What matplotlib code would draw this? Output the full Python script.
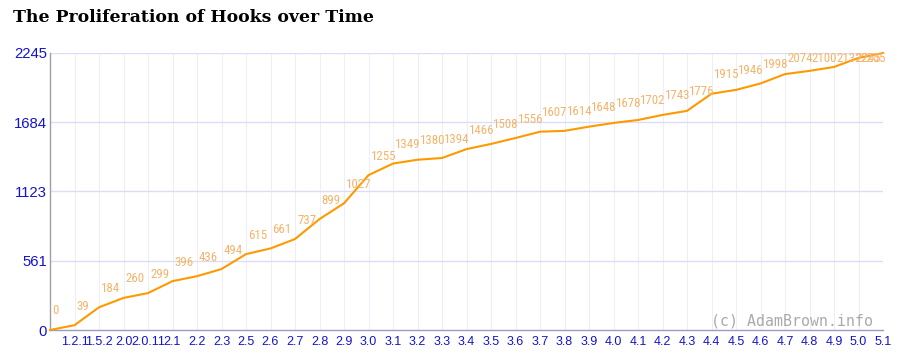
import matplotlib
matplotlib.use("Agg")
import matplotlib.pyplot as plt
from matplotlib import font_manager as fm

versions = ["", "1.2.1", "1.5.2", "2.0", "2.0.11", "2.1", "2.2", "2.3", "2.5", "2.6",
            "2.7", "2.8", "2.9", "3.0", "3.1", "3.2", "3.3", "3.4", "3.5", "3.6",
            "3.7", "3.8", "3.9", "4.0", "4.1", "4.2", "4.3", "4.4", "4.5", "4.6",
            "4.7", "4.8", "4.9", "5.0", "5.1"]
hooks = [0, 39, 184, 260, 299, 396, 436, 494, 615, 661,
         737, 899, 1027, 1255, 1349, 1380, 1394, 1466, 1508, 1556,
         1607, 1614, 1648, 1678, 1702, 1743, 1776, 1915, 1946, 1998,
         2074, 2100, 2132, 2205, 2245]
y_ticks = [0, 561, 1123, 1684, 2245]
title = "The Proliferation of Hooks over Time"
credit = "(c) AdamBrown.info"

# pick a narrow sans for the point labels if one is installed
names = {f.name for f in fm.fontManager.ttflist}
stretches = {(f.name, f.stretch) for f in fm.fontManager.ttflist}
if "Roboto Condensed" in names:
    lab_font = dict(family="Roboto Condensed", fontsize=9.3)
elif any(n == "DejaVu Sans" and s in ("condensed", 400 - 100) for n, s in stretches):
    lab_font = dict(family="DejaVu Sans", fontstretch="condensed", fontsize=9)
else:
    lab_font = dict(family="Liberation Sans", fontsize=8.6)

W, H = 900, 357
fig = plt.figure(figsize=(W / 100, H / 100), dpi=100)
ax = fig.add_axes([50 / W, 1 - 330 / H, 833 / W, 277 / H])

xs = list(range(len(hooks)))
ax.plot(xs, hooks, color="#ff9900", lw=1.5, solid_joinstyle="round", zorder=3, clip_on=False)

ax.set_xlim(0, len(hooks) - 1)
ax.set_ylim(0, y_ticks[-1])

# data labels: ~19 px above the point, kept inside the plot area
top_px = ax.transData.transform((0, y_ticks[-1]))[1]
for x, v in zip(xs, hooks):
    px, py = ax.transData.transform((x, v))
    dy = min(19, top_px - 5 - py)
    if x == len(hooks) - 1:
        dx, ha = -2, "right"
    else:
        dx, ha = 2, "left"
    ax.annotate(str(v), (x, v), xytext=(dx, dy), textcoords="offset pixels",
                ha=ha, va="center", color="#f4b46a", zorder=4,
                annotation_clip=False, **lab_font)

ax.set_yticks(y_ticks)
ax.set_yticklabels([str(t) for t in y_ticks])
ax.set_xticks(xs)
ax.set_xticklabels(versions)

for lab in ax.get_yticklabels() + ax.get_xticklabels():
    lab.set_family("Liberation Sans")
    lab.set_color("#1414cc")
for lab in ax.get_yticklabels():
    lab.set_fontsize(10.7)
for lab in ax.get_xticklabels():
    lab.set_fontsize(9)

ax.tick_params(axis="both", length=0)
ax.tick_params(axis="y", pad=2)
ax.tick_params(axis="x", pad=4)

# grid
for x in xs[1:]:
    ax.axvline(x, color="#eeeef8", lw=0.8, zorder=0)
for t in y_ticks[1:]:
    ax.axhline(t, color="#dcdcf8", lw=1.0, zorder=1)

for s in ["top", "right"]:
    ax.spines[s].set_visible(False)
ax.spines["left"].set_color("#a0a0a0")
ax.spines["left"].set_linewidth(1.0)
ax.spines["bottom"].set_color("#9c9cbc")
ax.spines["bottom"].set_linewidth(1.0)

fig.text(873 / W, 1 - 321 / H, credit, ha="right", va="center",
         family="DejaVu Sans Mono", fontsize=10.7, color="#aaaaaa")

fig.text(13 / W, 1 - 18 / H, title, ha="left", va="center",
         family="DejaVu Serif", fontweight="bold", fontsize=12.4, color="#000000")

fig.savefig("out.png", dpi=100)
